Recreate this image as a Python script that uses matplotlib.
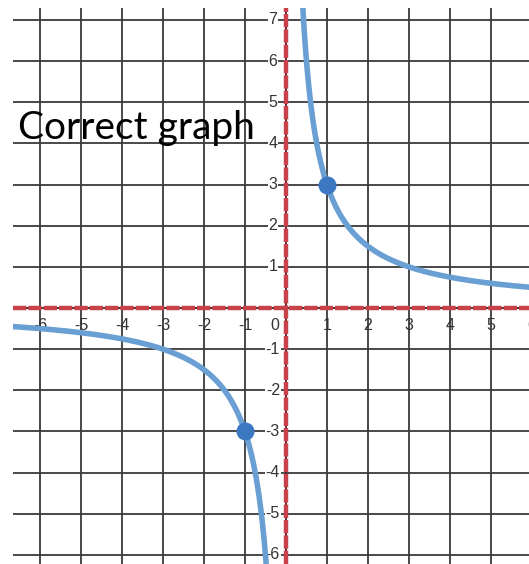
import numpy as np
import matplotlib.pyplot as plt

# y = 3/x, sampled on both branches
x_right = np.linspace(0.40, 6.2, 300)
x_left = np.linspace(-6.8, -0.47, 300)
k = 3.0

# marked points on the curve
pts_x = [1, -1]
pts_y = [3, -3]

x_ticks = [-6, -5, -4, -3, -2, -1, 1, 2, 3, 4, 5, 6]
y_ticks = [-6, -5, -4, -3, -2, -1, 1, 2, 3, 4, 5, 6, 7]

W, H = 529, 564
fig = plt.figure(figsize=(W / 100, H / 100), dpi=100)
x0, x1 = -6.66, 5.93
y0, y1 = -6.22, 7.29
ax = fig.add_axes([13 / W, 0, 1 - 13 / W, 1 - 8 / H])
ax.set_xlim(x0, x1)
ax.set_ylim(y0, y1)
ax.axis('off')

# grid
for gx in range(-6, 7):
    ax.axvline(gx, color='#3a3a3a', lw=1.3, zorder=1)
for gy in range(-6, 8):
    ax.axhline(gy, color='#3a3a3a', lw=1.3, zorder=1)

# axes: red dashed over a dark line
for f in (ax.axhline, ax.axvline):
    f(0, color='#5a2a2a', lw=1.2, zorder=2)
    f(0, color='#c8424a', lw=3.2, dashes=(3, 0.45), zorder=3)

# tick labels
for t in x_ticks:
    ax.text(t, -0.42, str(t), ha='center', va='center', fontsize=11.5,
            color='#333333', family='Liberation Sans', zorder=4, clip_on=False)
ax.text(-0.27, -0.42, '0', ha='center', va='center', fontsize=11.5,
        color='#333333', family='Liberation Sans', zorder=4)
for t in y_ticks:
    ax.text(-0.32, t, str(t), ha='center', va='center', fontsize=11.5,
            color='#333333', family='Liberation Sans', zorder=4,
            bbox=dict(boxstyle='square,pad=0.05', fc='white', ec='none'))

# curve
ax.plot(x_right, k / x_right, color='#6a9fd4', lw=4, solid_capstyle='butt', zorder=5)
ax.plot(x_left, k / x_left, color='#6a9fd4', lw=4, solid_capstyle='butt', zorder=5)
ax.plot(pts_x, pts_y, 'o', color='#3c78c2', ms=13, mec='none', zorder=6)

ax.text(-6.55, 4.38, 'Correct graph', fontsize=28, family='Lato',
        color='black', ha='left', va='center', zorder=7)

fig.savefig('out.png', dpi=100)
